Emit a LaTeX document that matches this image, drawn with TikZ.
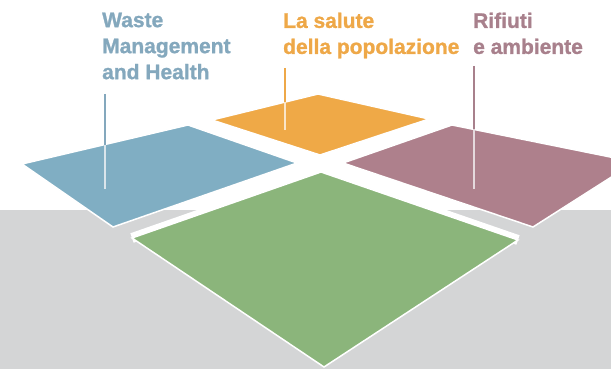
\documentclass[tikz,border=0pt]{standalone}
\usepackage{fontspec}
\setmainfont{Liberation Sans}[BoldFeatures={FakeBold=1.2}]
\definecolor{graybg}{HTML}{D4D5D6}
\definecolor{blueq}{HTML}{80AEC3}
\definecolor{orangeq}{HTML}{EFA947}
\definecolor{purpleq}{HTML}{AE808C}
\definecolor{greenq}{HTML}{8BB57B}
\definecolor{bluet}{HTML}{84A8BD}
\definecolor{oranget}{HTML}{EEA848}
\definecolor{purplet}{HTML}{A8808C}
\begin{document}
\begin{tikzpicture}[x=1pt,y=-1pt,
  quad/.style={draw=white,line width=1.5pt,line join=miter},
  halo/.style={draw=white,line width=10pt,line join=miter},
  leader/.style={line width=1.6pt},
  label/.style={anchor=north west,inner sep=0pt,align=left,
    font=\fontsize{21}{26}\selectfont\bfseries}]
\useasboundingbox (0,0) rectangle (611,369);
\clip (0,0) rectangle (611,369);
\fill[graybg] (0,210) rectangle (611,369);
% quads
\coordinate (oL) at (212,120); \coordinate (oT) at (318,94);
\coordinate (oR) at (429,119); \coordinate (oB) at (320,155);
\coordinate (bL) at (22,164);  \coordinate (bT) at (188,125);
\coordinate (bR) at (297,163); \coordinate (bB) at (113,227);
\coordinate (pL) at (343,163); \coordinate (pT) at (452,125);
\coordinate (pR) at (635,162); \coordinate (pB) at (533,227);
\coordinate (gL) at (132,238); \coordinate (gT) at (321,172);
\coordinate (gR) at (518,240); \coordinate (gB) at (324,367);
\filldraw[quad,fill=orangeq] (oL)--(oT)--(oR)--(oB)--cycle;
\filldraw[quad,fill=blueq] (bL)--(bT)--(bR)--(bB)--cycle;
\filldraw[quad,fill=purpleq] (pL)--(pT)--(pR)--(pB)--cycle;
\draw[halo] (gL)--(gT)--(gR);
\filldraw[quad,fill=greenq] (gL)--(gT)--(gR)--(gB)--cycle;
% labels
\node[label,text=bluet] (lw) at (102,12.5) {Waste\\Management\\and Health};
\node[label,text=oranget] (lo) at (283,12.5) {La salute\\della popolazione};
\node[label,text=purplet] (lp) at (473,12.5) {Rifiuti\\e ambiente};
% leaders
\coordinate (b1) at (105,94);  \coordinate (b2) at (105,144.6); \coordinate (b3) at (105,189);
\coordinate (o1) at (285,68);  \coordinate (o2) at (285,102);   \coordinate (o3) at (285,130);
\coordinate (p1) at (474,66);  \coordinate (p2) at (474,129.4); \coordinate (p3) at (474,189);
\draw[leader,bluet] (b1)--(b2);
\draw[leader,white!70!bluet] (b2)--(b3);
\draw[leader,oranget] (o1)--(o2);
\draw[leader,white!70!oranget] (o2)--(o3);
\draw[leader,purplet] (p1)--(p2);
\draw[leader,white!70!purplet] (p2)--(p3);
\end{tikzpicture}
\end{document}
